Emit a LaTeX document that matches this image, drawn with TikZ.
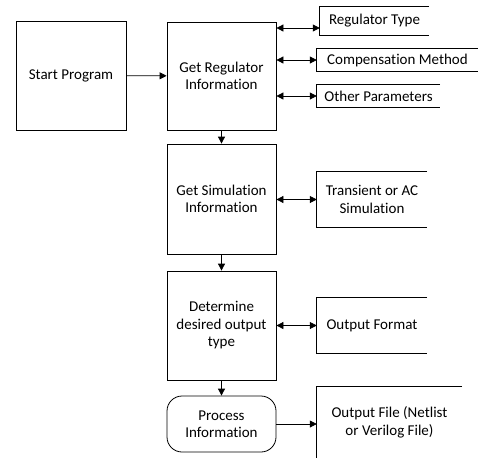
\documentclass[tikz,border=0pt]{standalone}
\usepackage{fontspec}
\setmainfont{Carlito}[RawFeature={-liga}]
\usetikzlibrary{arrows.meta}
\begin{document}
\begin{tikzpicture}[x=1pt,y=-1pt,
  every node/.style={font=\fontsize{15}{17.5}\selectfont, align=center, inner sep=0pt},
  stepbox/.style={draw, line width=0.8pt, minimum width=109pt},
  roundstep/.style={stepbox, rounded corners=15pt},
  openbox/.style={draw=none},
  side/.style={line width=0.8pt},
  link/.style={line width=0.8pt, -{Triangle[length=7pt,width=7pt]}},
  twoway/.style={line width=0.8pt, {Triangle[length=7pt,width=7pt]}-{Triangle[length=7pt,width=7pt]}}]
\useasboundingbox (0,0) rectangle (478,458);

% main flow
\node[stepbox, minimum width=110pt, minimum height=109pt] (start) at (71,75.5) {Start Program};
\node[stepbox, minimum height=108pt] (getreg) at (221.5,76) {Get Regulator\\Information};
\node[stepbox, minimum height=110pt] (getsim) at (221.5,199) {Get Simulation\\Information};
\node[stepbox, minimum height=109pt] (determine) at (221.5,325.5) {Determine\\desired output\\type};
\node[roundstep, minimum height=56pt] (process) at (221.5,424) {Process\\Information};

% data boxes, open on the right
\node[openbox, minimum width=109pt, minimum height=28pt] (regtype) at (374.5,21) {Regulator Type};
\node[openbox, minimum width=161pt, minimum height=22pt] (comp) at (397.5,60) {Compensation Method};
\node[openbox, minimum width=123pt, minimum height=22pt] (other) at (378.5,96) {Other Parameters};
\node[openbox, minimum width=110pt, minimum height=55pt] (trans) at (372,199.5) {Transient or AC\\Simulation};
\node[openbox, minimum width=110pt, minimum height=55pt] (outfmt) at (372,325.5) {Output Format};
\node[openbox, minimum width=145pt, minimum height=71pt] (outfile) at (389.5,422.5) {Output File (Netlist\\or Verilog File)};

\foreach \b in {regtype,comp,other,trans,outfmt}
  \draw[side] (\b.north east) -| (\b.south west) -- (\b.south east);
\draw[side] (outfile.north east) -| (outfile.south west);

% connectors
\draw[link] (start) -- (getreg);
\draw[link] (getreg) -- (getsim);
\draw[link] (getsim) -- (determine);
\draw[link] (determine) -- (process);
\draw[link] (process) -- (outfile.west |- process);

\coordinate (rt) at ([yshift=-7pt]regtype.west);
\draw[twoway] (getreg.east |- rt) -- (rt);
\draw[twoway] (getreg.east |- comp) -- (comp.west);
\draw[twoway] (getreg.east |- other) -- (other.west);
\draw[twoway] (getsim.east |- trans) -- (trans.west);
\draw[twoway] (determine.east |- outfmt) -- (outfmt.west);
\end{tikzpicture}
\end{document}
